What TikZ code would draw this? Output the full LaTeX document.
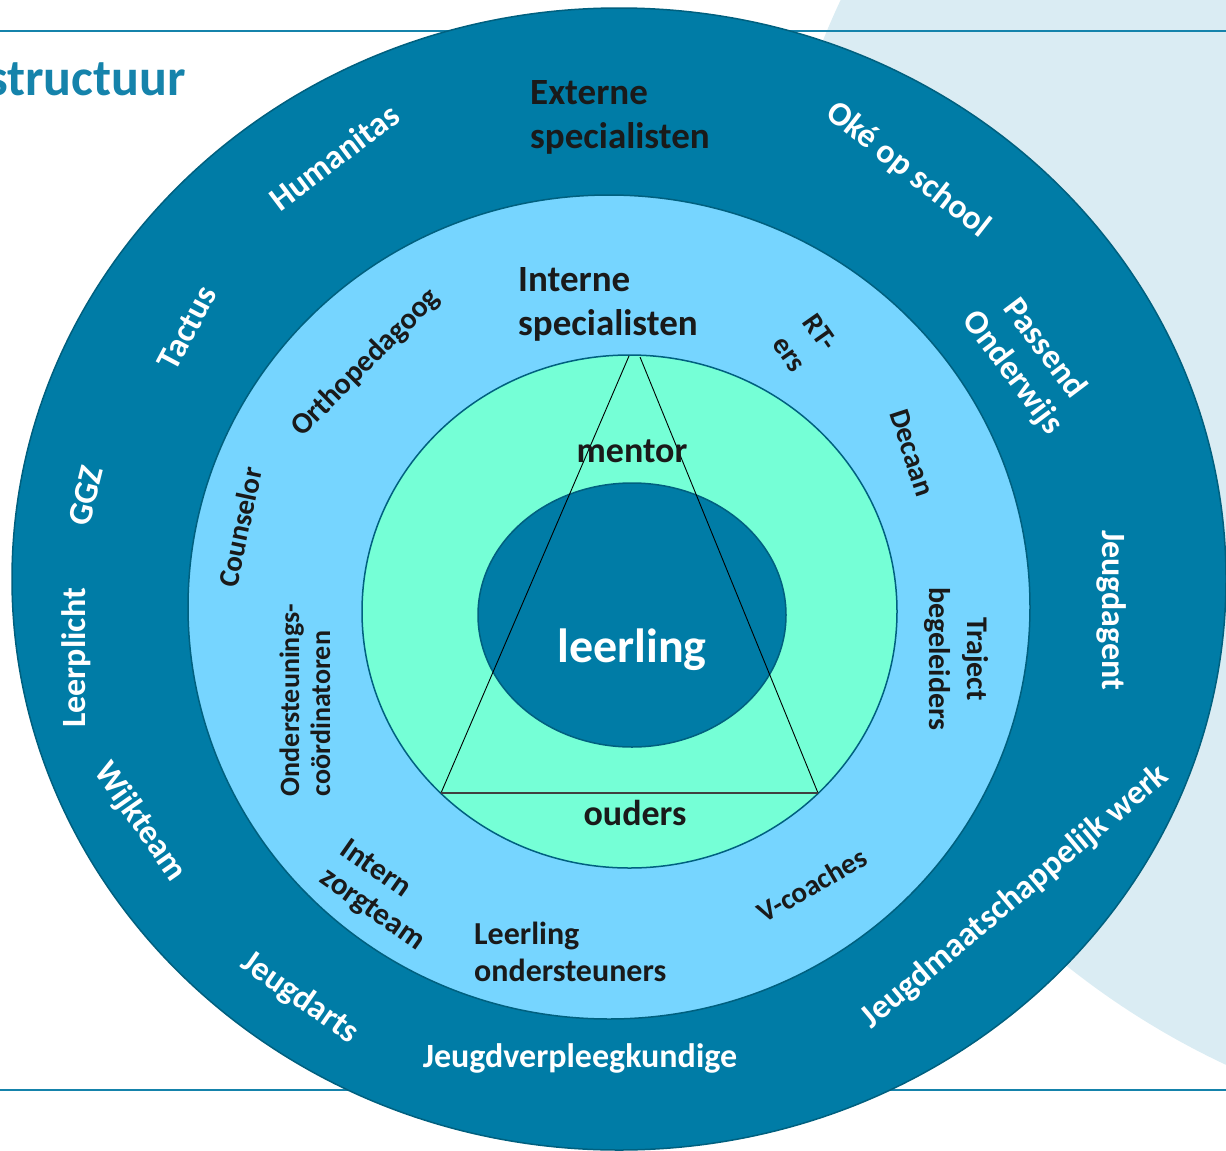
\documentclass[tikz,border=0pt]{standalone}
\usepackage{fontspec}
\setmainfont{Carlito}
\definecolor{donker}{HTML}{007CA6}
\definecolor{lichtblauw}{HTML}{76D5FF}
\definecolor{mint}{HTML}{75FFD6}
\definecolor{rand}{HTML}{00607F}
\definecolor{bleek}{HTML}{DAECF3}
\definecolor{lijn}{HTML}{1583AB}
\definecolor{zwart}{HTML}{1A1A1A}
\tikzset{
  buiten/.style={text=white,font=\bfseries\fontsize{34}{40}\selectfont,inner sep=0pt},
  kop/.style={text=zwart,font=\bfseries\fontsize{37}{44}\selectfont,inner sep=0pt,align=left,anchor=west},
  ring/.style={text=zwart,font=\bfseries\fontsize{29}{37}\selectfont,inner sep=0pt},
  ringvet/.style={text=zwart,font=\bfseries\fontsize{32}{37}\selectfont,inner sep=0pt},
  kern/.style={text=zwart,font=\bfseries\fontsize{36}{40}\selectfont,inner sep=0pt},
}
\begin{document}
\begin{tikzpicture}[x=1pt,y=-1pt,line join=round]
\useasboundingbox (0,0) rectangle (1226,1151);
\clip (0,0) rectangle (1226,1151);
% achtergrond
\fill[bleek] (1565,340) circle (800);
\draw[lijn,line width=2.5pt] (0,31)--(1226,31) (0,1090)--(1226,1090);
\node[text=lijn,font=\bfseries\fontsize{52}{60}\selectfont,inner sep=0pt,anchor=base east] (titel) at (186,95) {structuur};

% ringen
\draw[rand,fill=donker,line width=1.5pt] (619,579) ellipse [x radius=607,y radius=571];
\draw[rand,fill=lichtblauw,line width=1.5pt] (609,607) ellipse [x radius=421,y radius=412];
\draw[rand,fill=mint,line width=1.5pt] (629.5,611.5) ellipse [x radius=267.5,y radius=256.5];
\draw[rand,fill=donker,line width=1.5pt] (632,615) ellipse [x radius=154,y radius=132];

% driehoek
\coordinate (topL) at (629,356);
\coordinate (topR) at (640,357);
\coordinate (basL) at (441,793);
\coordinate (basR) at (818,793);
\draw[black,line width=0.9pt] (topL)--(basL) (topR)--(basR);
\draw[black!75,line width=1.6pt] (basL)--(basR);

% kern
\node[kern,text=white,font=\bfseries\fontsize{48}{52}\selectfont] (leerling) at (632,650) {leerling};
\node[kern] (mentor) at (632,451) {mentor};
\node[kern] (ouders) at (635,813) {ouders};

% buitenring
\node[kop] (extern) at (530,117) {Externe\\specialisten};
\node[buiten,rotate=37] (humanitas) at (334,157) {Humanitas};
\node[buiten,rotate=62] (tactus) at (187,328) {Tactus};
\node[buiten,rotate=76] (ggz) at (86,496) {GGZ};
\node[buiten,rotate=90] (leerplicht) at (76,658) {Leerplicht};
\node[buiten,rotate=-55] (wijkteam) at (140,822) {Wijkteam};
\node[buiten,rotate=-35] (jeugdarts) at (300,998) {Jeugdarts};
\node[buiten] (jvpk) at (580,1058) {Jeugdverpleegkundige};
\node[buiten,rotate=40] (jmw) at (1015,897) {Jeugdmaatschappelijk werk};
\node[buiten,rotate=-90] (jeugdagent) at (1112,610) {Jeugdagent};
\node[buiten,rotate=-53,align=center] (passend) at (1028,361) {Passend\\Onderwijs};
\node[buiten,rotate=-38] (oke) at (908,170) {Oké op school};

% binnenring
\node[kop] (intern) at (518,304) {Interne\\specialisten};
\node[ring,rotate=45,font=\bfseries\fontsize{30}{37}\selectfont] (ortho) at (366,363) {Orthopedagoog};
\node[ring,rotate=78] (counselor) at (240,527) {Counselor};
\node[ring,rotate=90,align=left,font=\bfseries\fontsize{28}{31}\selectfont] (ondcoord) at (305,700) {Ondersteunings-\\coördinatoren};
\node[ringvet,rotate=-35,align=left,font=\bfseries\fontsize{31}{35}\selectfont] (zorgteam) at (382,896) {Intern\\zorgteam};
\node[ringvet,anchor=west,align=left] (ondersteuners) at (474,952) {Leerling\\ondersteuners};
\node[ring,rotate=30] (vcoaches) at (812,885) {V-coaches};
\node[ring,rotate=-90,align=center,font=\bfseries\fontsize{30}{38}\selectfont] (traject) at (956,659) {Traject\\begeleiders};
\node[ring,rotate=-72] (decaan) at (912,453) {Decaan};
\node[ring,rotate=-55,align=center] (rters) at (805,343) {RT-\\ers};
\end{tikzpicture}
\end{document}
